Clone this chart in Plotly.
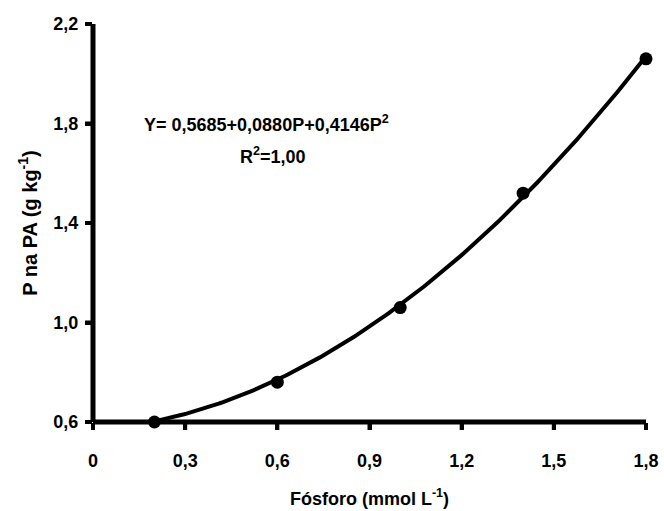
import numpy as np
import plotly.graph_objects as go

# Observed data
fosforo = [0.2, 0.6, 1.0, 1.4, 1.8]
p_pa = [0.60, 0.76, 1.06, 1.52, 2.06]

# Quadratic fit coefficients (Y = b0 + b1*P + b2*P^2)
b0, b1, b2 = 0.5685, 0.0880, 0.4146

x_ticks = [0, 0.3, 0.6, 0.9, 1.2, 1.5, 1.8]
x_tick_labels = ["0", "0,3", "0,6", "0,9", "1,2", "1,5", "1,8"]
y_ticks = [0.6, 1.0, 1.4, 1.8, 2.2]
y_tick_labels = ["0,6", "1,0", "1,4", "1,8", "2,2"]

FONT = "Liberation Sans, Arial, sans-serif"
SIZE = 18
p_fit = np.linspace(min(fosforo), max(fosforo), 200)
y_fit = b0 + b1 * p_fit + b2 * p_fit ** 2


def bold(s):
    return "<b>" + s + "</b>"


fig = go.Figure()
fig.add_trace(go.Scatter(x=p_fit, y=y_fit, mode="lines",
                         line=dict(color="black", width=4),
                         hoverinfo="skip", cliponaxis=False))
fig.add_trace(go.Scatter(x=fosforo, y=p_pa, mode="markers",
                         marker=dict(color="black", size=13),
                         cliponaxis=False))

ann_font = dict(family=FONT, size=SIZE, color="black")
fig.add_annotation(x=0.565, y=1.80, xref="x", yref="y", showarrow=False,
                   text=bold("Y= 0,5685+0,0880P+0,4146P<sup>2</sup>"), font=ann_font)
fig.add_annotation(x=0.585, y=1.67, xref="x", yref="y", showarrow=False,
                   text=bold("R<sup>2</sup>=1,00"), font=ann_font)

# Heavy L-shaped frame along the bottom and left edges of the plot area
frame = dict(color="black", width=5)
fig.add_shape(type="line", xref="paper", yref="paper", x0=0, x1=1, y0=0, y1=0,
              line=frame, layer="below")
fig.add_shape(type="line", xref="paper", yref="paper", x0=0, x1=0, y0=0, y1=1,
              line=frame, layer="below")

# Heavy outside tick marks, one per tick value
tick = dict(color="black", width=4)
for xv in x_ticks:
    fig.add_shape(type="line", xref="x", yref="paper", ysizemode="pixel", yanchor=0,
                  x0=xv, x1=xv, y0=0, y1=-8, line=tick, layer="below")
for yv in y_ticks:
    fig.add_shape(type="line", xref="paper", yref="y", xsizemode="pixel", xanchor=0,
                  x0=0, x1=-8, y0=yv, y1=yv, line=tick, layer="below")

axis_common = dict(
    showline=False,
    ticks="outside", ticklen=7, tickwidth=4, tickcolor="black",
    showgrid=False, zeroline=False, automargin=False,
    tickfont=dict(family=FONT, size=SIZE, color="black"),
)

fig.update_xaxes(range=[0, 1.8], tickvals=x_ticks,
                 ticktext=[bold(t) for t in x_tick_labels],
                 ticklabelstandoff=15,
                 title=dict(text=bold("Fósforo (mmol L<sup>-1</sup>)"), standoff=22,
                            font=dict(family=FONT, size=SIZE, color="black")),
                 **axis_common)
fig.update_yaxes(range=[0.6, 2.2], tickvals=y_ticks,
                 ticktext=[bold(t) for t in y_tick_labels],
                 ticklabelstandoff=3,
                 title=dict(text=bold("P na PA (g kg<sup>-1</sup>)"), standoff=10,
                            font=dict(family=FONT, size=20, color="black")),
                 **axis_common)

fig.update_layout(
    width=664, height=511,
    margin=dict(l=93, r=18, t=24, b=89),
    plot_bgcolor="white", paper_bgcolor="white",
    showlegend=False,
)

fig.write_html("out.html")
